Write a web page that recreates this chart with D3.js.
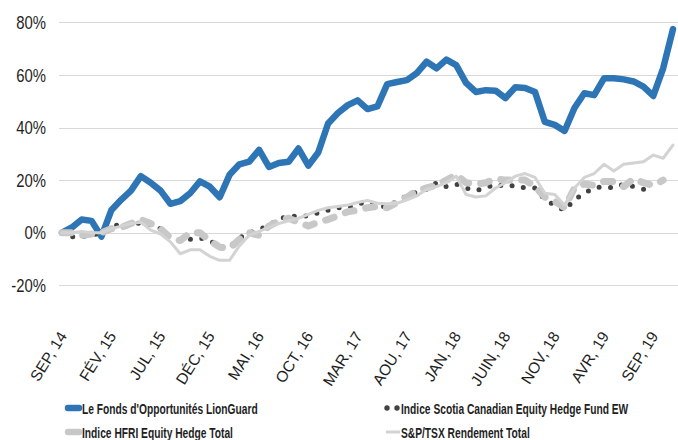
<!DOCTYPE html>
<html>
<head>
<meta charset="utf-8">
<script src="https://cdn.jsdelivr.net/npm/d3@7"></script>
<style>
  html, body { margin: 0; padding: 0; background: #ffffff; }
  svg { display: block; }
  text { font-family: "Liberation Sans", Arial, sans-serif; fill: #1e1e1e; }
</style>
</head>
<body>
<svg id="chart" width="678" height="440"></svg>
<script>
const categories = ["SEP, 14","OCT, 14","NOV, 14","DÉC, 14","JAN, 15","FÉV, 15","MAR, 15","AVR, 15","MAI, 15","JUIN, 15","JUL, 15","AOU, 15","SEP, 15","OCT, 15","NOV, 15","DÉC, 15","JAN, 16","FÉV, 16","MAR, 16","AVR, 16","MAI, 16","JUIN, 16","JUL, 16","AOU, 16","SEP, 16","OCT, 16","NOV, 16","DÉC, 16","JAN, 17","FÉV, 17","MAR, 17","AVR, 17","MAI, 17","JUIN, 17","JUL, 17","AOU, 17","SEP, 17","OCT, 17","NOV, 17","DÉC, 17","JAN, 18","FÉV, 18","MAR, 18","AVR, 18","MAI, 18","JUIN, 18","JUL, 18","AOU, 18","SEP, 18","OCT, 18","NOV, 18","DÉC, 18","JAN, 19","FÉV, 19","MAR, 19","AVR, 19","MAI, 19","JUIN, 19","JUL, 19","AOU, 19","SEP, 19","OCT, 19","NOV, 19"];

const tickLabels = ["SEP, 14","FÉV, 15","JUL, 15","DÉC, 15","MAI, 16","OCT, 16","MAR, 17","AOU, 17","JAN, 18","JUIN, 18","NOV, 18","AVR, 19","SEP, 19"];

const yTicks = [-20, 0, 20, 40, 60, 80];

const seriesNames = ["Le Fonds d'Opportunités LionGuard", "Indice Scotia Canadian Equity Hedge Fund EW", "Indice HFRI Equity Hedge Total", "S&P/TSX Rendement Total"];

const lionGuard = [0,2,5,4.5,-1.5,8.5,12.5,16,21.5,19,16,11,12,15,19.5,17.5,13.5,22,26,27,31.5,25,26.5,27,32,25.5,30.5,41.5,45.5,48.5,50.3,47,48,56.5,57.3,58,60.7,65,62.5,65.8,63.7,57,53.5,54.2,54,51.2,55.3,55,53.5,42.1,41,38.7,47.4,53,52.3,58.7,58.7,58.3,57.5,55.5,52,62.5,77.4];

const scotia = [0,-1.5,-1.5,-1,0,2,3.5,2.5,4,3,1.5,-2,-3,-2.5,-2,-3,-5.5,-5.5,-2,0,1,3,5,6.5,6,6.5,7.5,8.5,9.5,9.5,11,11.5,10,10,12,14,15.5,16.5,19,17.5,18.5,17,16,17,18.5,17.5,18,17,17,12.5,10.5,8.5,12.5,15,17,17.5,17,18.5,17.5,16.5,16.5,null,null];

const hfri = [0,0,-1,-0.5,0,1.5,2,3.5,5,3.5,1.5,-2,-3,0,0,-3,-5.5,-6,-2.5,0,-1,2.5,4.5,5.5,4,2.5,4,5,6.5,8,8.5,9.5,10,9.5,11.5,13.5,16,17,18,20,22,19,18.5,19,20.5,20,20,20,17.5,13.5,12,9.5,17,18.5,18,19.5,19.5,17.5,20.5,19,18,20,null];

const tsx = [0,0,0.5,0,0,1.5,2.5,3.5,4,1,-0.5,-3.5,-8,-6.5,-6.5,-9,-10.5,-10.5,-5,-1,0.5,2,3.5,4.5,5.5,7,8.5,9.5,10,10.5,11.5,12.3,11.2,11,11.2,12.5,14,16.5,17.5,19,21.5,14.5,13.6,14,17,19,21.5,22.5,21,15,14.5,10.5,17,21,22.5,26,23.5,26,26.5,27,29.5,28.3,33.3];

const svg = d3.select("#chart");

const x = d3.scalePoint().domain(categories).range([62, 673]);
const y = d3.scaleLinear().domain([-20, 80]).range([285.3, 22.3]);

// gridlines + y labels
const yAxis = d3.axisLeft(y).tickValues(yTicks).tickSize(-619).tickFormat(d => d + "%").tickPadding(13);
const gy = svg.append("g").attr("transform", "translate(59,0)").call(yAxis);
gy.select(".domain").remove();
gy.selectAll(".tick line").attr("stroke", "#d9d9d9").attr("stroke-width", 1).attr("shape-rendering", "crispEdges");
gy.selectAll(".tick text")
  .attr("font-size", 17.5).attr("fill", "#1e1e1e")
  .attr("x", 0).attr("dy", "0.35em")
  .attr("transform", "translate(-13,0) scale(0.85,1)")
  .style("font-family", "'Liberation Sans', Arial, sans-serif");

// x axis labels
const xAxis = d3.axisBottom(x).tickValues(tickLabels).tickSize(0).tickPadding(0);
const gx = svg.append("g").attr("transform", "translate(0,336)").call(xAxis);
gx.select(".domain").remove();
gx.selectAll(".tick text")
  .attr("font-size", 15.5)
  .attr("fill", "#1e1e1e")
  .attr("text-anchor", "end")
  .attr("dy", "0")
  .attr("y", 0)
  .attr("transform", "translate(5,0) rotate(-58)")
  .style("font-family", "'Liberation Sans', Arial, sans-serif");

const lineGen = arr => d3.line()
  .defined((d) => d !== null)
  .x((d, i) => x(categories[i]))
  .y(d => y(d))(arr);

const styles = [
  { data: lionGuard, stroke: "#2E75B6", width: 6.5, dash: null },
  { data: scotia, stroke: "#424242", width: 5, dash: "0,11.5" },
  { data: hfri, stroke: "#c8c8c8", width: 7, dash: "9,12" },
  { data: tsx, stroke: "#d3d3d3", width: 3, dash: null }
];

styles.forEach(s => {
  svg.append("path")
    .attr("d", lineGen(s.data))
    .attr("fill", "none")
    .attr("stroke", s.stroke)
    .attr("stroke-width", s.width)
    .attr("stroke-linejoin", "round")
    .attr("stroke-linecap", "round")
    .attr("stroke-dasharray", s.dash);
});

// legend
const legendPos = [
  { sx: 65, tx: 82, y: 408, base: 414 },
  { sx: 387, tx: 401, y: 408, base: 414 },
  { sx: 65, tx: 82, y: 432, base: 438 },
  { sx: 386, tx: 401, y: 432, base: 438 }
];
const lg = svg.append("g");
seriesNames.forEach((name, i) => {
  const p = legendPos[i];
  const s = styles[i];
  if (i === 1) {
    [p.sx, p.sx + 10].forEach(cx => lg.append("circle").attr("cx", cx).attr("cy", p.y).attr("r", 2.7).attr("fill", s.stroke));
  } else {
    lg.append("line")
      .attr("x1", p.sx + (i === 3 ? 0 : 3)).attr("x2", p.tx - (i === 3 ? 1 : 3))
      .attr("y1", p.y).attr("y2", p.y)
      .attr("stroke", s.stroke)
      .attr("stroke-width", i === 3 ? 3 : 6.5)
      .attr("stroke-linecap", i === 3 ? "butt" : "round");
  }
  lg.append("text")
    .attr("x", 0).attr("y", 0)
    .attr("transform", `translate(${p.tx},${p.base}) scale(0.66,1)`)
    .attr("font-size", 15.5)
    .attr("font-weight", "bold")
    .attr("fill", "#111")
    .text(name);
});
</script>
</body>
</html>
